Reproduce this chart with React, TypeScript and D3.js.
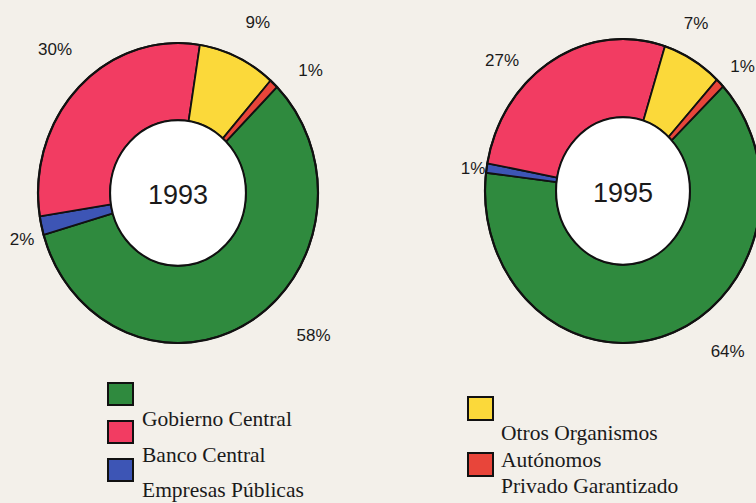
import React from 'react';
import * as d3 from 'd3';

const categories = ['Gobierno Central', 'Banco Central', 'Empresas Públicas', 'Otros Organismos Autónomos', 'Privado Garantizado'];
const colors = ['#2f8a3e', '#f23c62', '#3d55b5', '#fbd93a', '#e8453a'];
const values1993 = [58, 30, 2, 9, 1];
const values1995 = [64, 27, 1, 7, 1];
// clockwise order of the slices, starting at the green one
const sliceOrder = [0, 2, 1, 3, 4];

const leftLegend = [0, 1, 2];
const leftLegendText = ['Gobierno Central', 'Banco Central', 'Empresas Públicas'];
const rightLegend = [3, 4];
const rightLegendText = ['Otros Organismos', 'Autónomos', 'Privado Garantizado'];

const W = 756;
const H = 503;
const BG = '#f3f0ea';

interface ChartSpec {
  year: string;
  values: number[];
  cx: number;
  cy: number;
  rx: number;
  ry: number;
  start: number; // degrees, clockwise from 12 o'clock
  // label nudges (deg) and radial factors, by category index
  nudge: number[];
  k: number[];
}

const charts: ChartSpec[] = [
  {
    year: '1993', values: values1993, cx: 178, cy: 193, rx: 140, ry: 150, start: 45,
    nudge: [-15, 2.5, -3, 1.5, 6], k: [1.356, 1.3, 1.157, 1.27, 1.25]
  },
  {
    year: '1995', values: values1995, cx: 623, cy: 191, rx: 138, ry: 152, start: 46.5,
    nudge: [-17.4, -14.8, -1, -4.6, 2], k: [1.3, 1.225, 1.097, 1.22, 1.19]
  }
];

const rad = Math.PI / 180;

const Donut = ({ c }: { c: ChartSpec }) => {
  const data = sliceOrder.map(i => ({ i, v: c.values[i] }));
  const pie = d3.pie<{ i: number; v: number }>()
    .sort(null)
    .value(d => d.v)
    .startAngle(c.start * rad)
    .endAngle(c.start * rad + 2 * Math.PI);
  const arcs = pie(data);
  const inner = c.rx * 0.485;
  const arc = d3.arc<d3.PieArcDatum<{ i: number; v: number }>>()
    .innerRadius(inner)
    .outerRadius(c.rx);
  const sy = c.ry / c.rx;

  return (
    <g>
      <g transform={`translate(${c.cx},${c.cy}) scale(1,${sy})`}>
        {arcs.map(a => (
          <path key={a.data.i} d={arc(a) || ''} fill={colors[a.data.i]} stroke="#111"
            strokeWidth={1.8} strokeLinejoin="round" vectorEffect="non-scaling-stroke" />
        ))}
        <circle r={inner} fill="#ffffff" stroke="#111" strokeWidth={2} vectorEffect="non-scaling-stroke" />
        <circle r={c.rx} fill="none" stroke="#111" strokeWidth={2.2} vectorEffect="non-scaling-stroke" />
      </g>
      {arcs.map(a => {
        const i = a.data.i;
        const th = ((a.startAngle + a.endAngle) / 2) / rad + c.nudge[i];
        const x = c.cx + c.k[i] * c.rx * Math.sin(th * rad);
        const y = c.cy - c.k[i] * c.ry * Math.cos(th * rad);
        return (
          <text key={'l' + i} x={x} y={y} textAnchor="middle" dominantBaseline="central"
            fontFamily="'Liberation Sans', Arial, sans-serif" fontSize={17} fill="#1a1a1a">
            {a.data.v}%
          </text>
        );
      })}
      <text x={c.cx} y={c.cy + 2} textAnchor="middle" dominantBaseline="central"
        fontFamily="'Liberation Sans', Arial, sans-serif" fontSize={27} fill="#1a1a1a">
        {c.year}
      </text>
    </g>
  );
};

export default function App() {
  const serif = "'Liberation Serif', 'Times New Roman', serif";
  return (
    <svg width={W} height={H} style={{ position: 'absolute', left: 0, top: 0, background: BG }}>
      <rect width={W} height={H} fill={BG} />
      {charts.map(c => <Donut key={c.year} c={c} />)}

      {leftLegend.map((ci, j) => (
        <rect key={'ls' + ci} x={108} y={383 + j * 38} width={25} height={22}
          fill={colors[ci]} stroke="#111" strokeWidth={2} />
      ))}
      {leftLegendText.map((t, j) => (
        <text key={'lt' + j} x={142} y={426 + j * 35.5} fontFamily={serif} fontSize={21.5} fill="#1a1a1a">{t}</text>
      ))}

      {rightLegend.map((ci, j) => (
        <rect key={'rs' + ci} x={468} y={397 + j * 56} width={25} height={23}
          fill={colors[ci]} stroke="#111" strokeWidth={2} />
      ))}
      {rightLegendText.map((t, j) => (
        <text key={'rt' + j} x={501} y={440 + j * 26.5} fontFamily={serif} fontSize={21.5} fill="#1a1a1a">{t}</text>
      ))}
    </svg>
  );
}
